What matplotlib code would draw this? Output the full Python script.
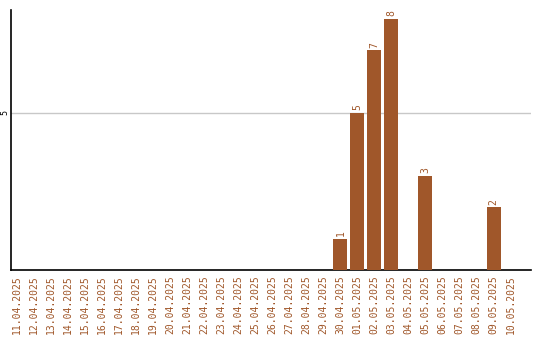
import matplotlib
matplotlib.use("Agg")
import matplotlib.pyplot as plt
import numpy as np

dates = ['11.04.2025', '12.04.2025', '13.04.2025', '14.04.2025', '15.04.2025',
         '16.04.2025', '17.04.2025', '18.04.2025', '19.04.2025', '20.04.2025',
         '21.04.2025', '22.04.2025', '23.04.2025', '24.04.2025', '25.04.2025',
         '26.04.2025', '27.04.2025', '28.04.2025', '29.04.2025', '30.04.2025',
         '01.05.2025', '02.05.2025', '03.05.2025', '04.05.2025', '05.05.2025',
         '06.05.2025', '07.05.2025', '08.05.2025', '09.05.2025', '10.05.2025']
counts = [0, 0, 0, 0, 0, 0, 0, 0, 0, 0,
          0, 0, 0, 0, 0, 0, 0, 0, 0, 1,
          5, 7, 8, 0, 3, 0, 0, 0, 2, 0]

bar_c = '#a0572a'
mono = 'DejaVu Sans Mono'

fig = plt.figure(figsize=(5.4, 3.4), dpi=100)
ax = fig.add_axes([11/540, 70/340, 520/540, 260/340])

x = np.arange(len(dates))
ax.bar(x, counts, width=0.82, color=bar_c, zorder=3)
for xi, v in zip(x, counts):
    if v > 0:
        ax.text(xi, v + 0.08, str(v), rotation=90, ha='center', va='bottom',
                color=bar_c, fontsize=7, family=mono)

ax.set_xlim(-0.35, 30.2)
ax.set_ylim(0, 8.28)
ax.set_xticks(x)
ax.set_xticklabels(dates, rotation=90, color=bar_c, fontsize=7, family=mono)
ax.set_yticks([5])
ax.set_yticklabels(['5'], rotation=90, fontsize=6, family=mono, va='center')
ax.tick_params(axis='x', length=0, pad=4)
ax.tick_params(axis='y', length=0, pad=1)
ax.grid(axis='y', color='#c8c8c8', linewidth=1, zorder=0)

for s in ['top', 'right']:
    ax.spines[s].set_visible(False)
ax.spines['left'].set_linewidth(1.2)
ax.spines['bottom'].set_linewidth(1.2)

fig.savefig('out.png', dpi=100)
